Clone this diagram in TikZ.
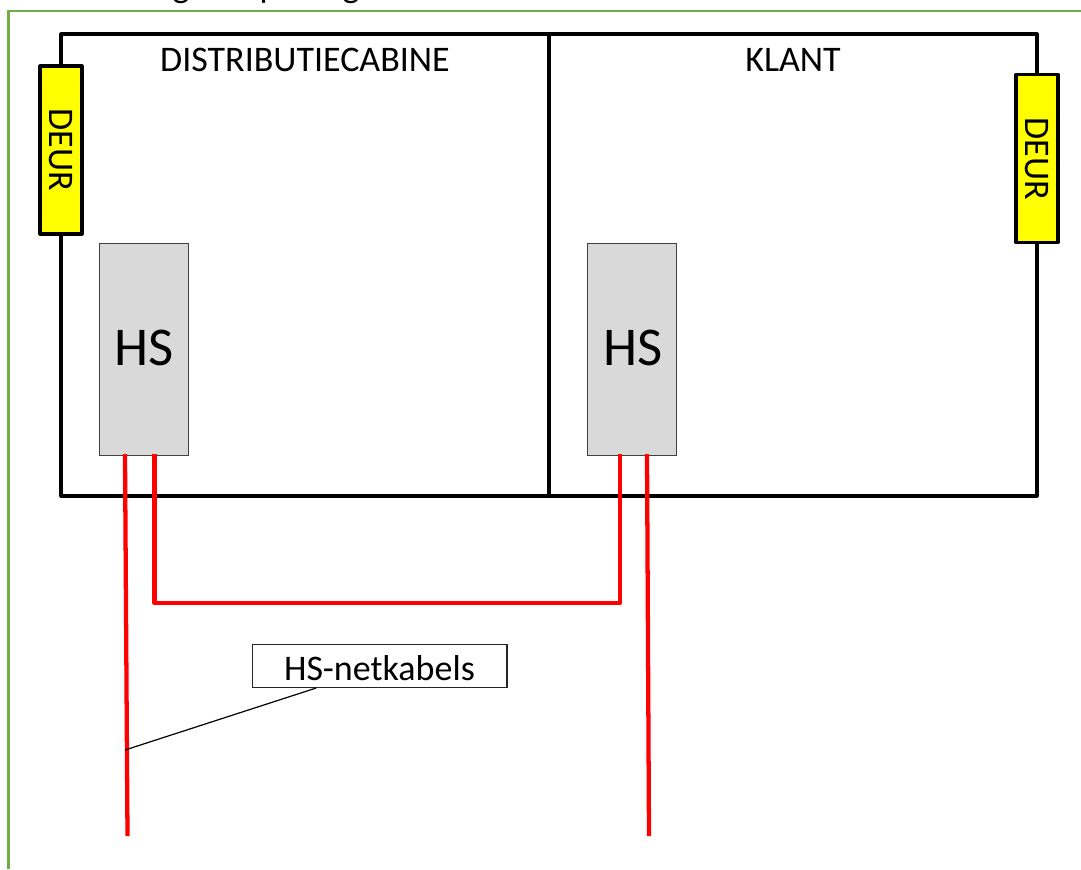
\documentclass[tikz,border=0pt]{standalone}
\usepackage{fontspec}
\setmainfont{Carlito}
\definecolor{frame}{RGB}{112,173,71}
\definecolor{hsgray}{RGB}{217,217,217}
\definecolor{pureyellow}{RGB}{255,255,0}
\definecolor{purered}{RGB}{255,0,0}
\newcommand{\bigtxt}{\fontsize{27}{32}\selectfont}
\tikzset{
 px/.style={x=0.75pt,y=-0.75pt},
 wall/.style={draw=black,line width=2.3pt},
 door/.style={draw=black,line width=2.3pt,fill=pureyellow,line join=round,minimum width=31.5pt,minimum height=126pt,inner sep=0pt,anchor=center},
 hsbox/.style={draw=black!75,line width=1pt,fill=hsgray,inner sep=0pt,minimum width=66.75pt,minimum height=159pt},
 hstxt/.style={font=\fontsize{41}{48}\selectfont,inner sep=0pt},
 cable/.style={draw=purered,line width=3.2pt},
 leader/.style={draw=black,line width=0.9pt},
 title/.style={font=\bigtxt,inner sep=0pt},
 cuttext/.style={font=\bigtxt,inner sep=0pt,anchor=base},
}
\begin{document}
\begin{tikzpicture}[px]
\useasboundingbox (0,0) rectangle (1081,869);
\fill[white] (0,0) rectangle (1081,869);
\begin{scope}
\clip (0,0) rectangle (1081,869);
\node[cuttext] (g1) at (181,-3) {g};
\node[cuttext] (p1) at (269,-3) {p};
\node[cuttext] (g2) at (351,-3) {g};
\end{scope}
\draw[frame,line width=1.9pt] (8.5,869) -- (8.5,11) -- (1081,11);
\draw[wall,line join=round] (61,34) rectangle (1037,496);
\draw[wall] (549,34) -- (549,496);
\node[door] (d1) at (61,150) {\rotatebox{-90}{\bigtxt DEUR}};
\node[door] (d2) at (1037,158.500) {\rotatebox{-90}{\bigtxt DEUR}};
\node[title] (t1) at (305,60) {DISTRIBUTIECABINE};
\node[title] (t2) at (793,60) {KLANT};
\node[hsbox] (h1) at (144,349.500) {};
\node[hsbox] (h2) at (632,349.500) {};
\node[hstxt] (h1t) at (144,348) {HS};
\node[hstxt] (h2t) at (633,348) {HS};
\coordinate (a1) at (125,454);
\coordinate (a2) at (127.500,836);
\coordinate (b1) at (154.500,454);
\coordinate (b2) at (154.500,603);
\coordinate (b3) at (620,603);
\coordinate (b4) at (620,454);
\coordinate (c1) at (647,454);
\coordinate (c2) at (649,836);
\draw[cable] (a1) -- (a2);
\draw[cable] (c1) -- (c2);
\draw[cable,line join=round] (b1) -- (b2) -- (b3) -- (b4);
\node[draw=black!85,line width=1pt,fill=white,minimum width=191pt,minimum height=32pt,inner sep=0pt] (lab) at (379.500,666) {};
\node[title] (labt) at (379.500,668) {HS-netkabels};
\coordinate (p) at (125,750);
\draw[leader] (lab.south west) ++(48.5pt,0) -- (p);
\end{tikzpicture}
\end{document}
